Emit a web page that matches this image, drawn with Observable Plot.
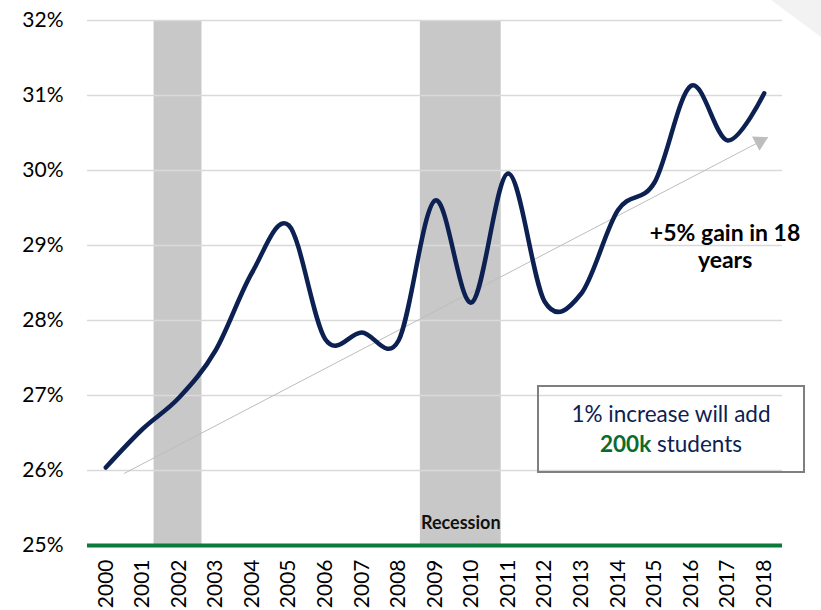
<!DOCTYPE html>
<html>
<head>
<meta charset="utf-8">
<script src="https://cdn.jsdelivr.net/npm/d3@7"></script>
<script src="https://cdn.jsdelivr.net/npm/@observablehq/plot@0.6"></script>
<style>
  html, body { margin: 0; padding: 0; background: #ffffff; }
  #wrap { position: relative; width: 821px; height: 610px; font-family: Lato, "Open Sans", sans-serif; overflow: hidden; }
  #wrap svg { display: block; }
  #corner { position: absolute; right: 0; top: 0; width: 50px; height: 37px; background: #f2f2f2;
            clip-path: polygon(0 0, 100% 0, 100% 100%); }
  #note { position: absolute; left: 537px; top: 385px; width: 268px; height: 88px; box-sizing: border-box;
          border: 2px solid #7f7f7f; display: flex; flex-direction: column; justify-content: center;
          align-items: center; font-size: 22.5px; line-height: 30px; color: #0c2152; background: transparent; }
  #note b { color: #0b6b2e; font-weight: 700; }
</style>
</head>
<body>
<div id="wrap">
  <div id="chart"></div>
  <div id="corner"></div>
  <div id="note"><div>1% increase will add</div><div><b>200k</b> students</div></div>
</div>
<script>
// Years on the x axis
const years = [2000, 2001, 2002, 2003, 2004, 2005, 2006, 2007, 2008, 2009,
               2010, 2011, 2012, 2013, 2014, 2015, 2016, 2017, 2018];
// Share (%) per year
const rates = [26.04, 26.55, 26.97, 27.6, 28.64, 29.27, 27.75, 27.84, 27.73, 29.6,
               28.24, 29.96, 28.25, 28.36, 29.47, 29.84, 31.13, 30.4, 31.03];
// Y axis ticks
const yTicks = [25, 26, 27, 28, 29, 30, 31, 32];
const gridTicks = [26, 27, 28, 29, 30, 31, 32];
// Recession shading (fractional years)
const recessionStart = [2001.32, 2008.6];
const recessionEnd = [2002.63, 2010.81];
const recessionLabel = ["", "Recession"];
// Trend arrow
const trendFrom = [2000.5, 25.96];
const trendTo = [2018.1, 30.44];
// Trend annotation
const trendText = ["+5% gain in 18\nyears"];
const trendTextPos = [2016.93, 29.0];

const data = years.map((year, i) => ({year, rate: rates[i]}));
const recessions = recessionStart.map((s, i) => ({start: s, end: recessionEnd[i], mid: (s + recessionEnd[i]) / 2, label: recessionLabel[i]}));
const trend = [{x1: trendFrom[0], y1: trendFrom[1], x2: trendTo[0], y2: trendTo[1]}];

const chart = Plot.plot({
  width: 821,
  height: 610,
  marginLeft: 87,
  marginRight: 39,
  marginTop: 20,
  marginBottom: 65,
  style: {fontFamily: "Lato, 'Open Sans', sans-serif", fontSize: "21px", color: "#000000", background: "transparent"},
  x: {domain: [1999.5, 2018.5], ticks: years, tickFormat: d => String(d), tickRotate: -90, tickSize: 0, tickPadding: 14, label: null},
  y: {domain: [25, 32], ticks: yTicks, tickFormat: d => d + "%", tickSize: 0, tickPadding: 24, label: null},
  marks: [
    Plot.rect(recessions, {x1: "start", x2: "end", y1: 25, y2: 32, fill: "#c8c8c8"}),
    Plot.ruleY(gridTicks, {stroke: "#d9d9d9", strokeWidth: 1.5}),
    Plot.text(recessions, {x: "mid", y: 25, text: "label", dy: -22, fontWeight: "bold", fontSize: 18, fill: "#111111"}),
    Plot.ruleY([25], {stroke: "#0b7a3a", strokeWidth: 4}),
    Plot.link(trend, {x1: "x1", y1: "y1", x2: "x2", y2: "y2", stroke: "#bdbdbd", strokeWidth: 1}),
    Plot.dot(trend, {x: "x2", y: "y2", symbol: "triangle", r: 6, fill: "#bdbdbd", stroke: null, rotate: 62.4, dx: -8, dy: 4}),
    Plot.line(data, {x: "year", y: "rate", curve: "cardinal", tension: 0, stroke: "#0c2152", strokeWidth: 4.5, strokeLinecap: "round", strokeLinejoin: "round"}),
    Plot.text(trendText, {x: () => trendTextPos[0], y: () => trendTextPos[1], text: d => d, fontWeight: "bold", fontSize: 23, lineHeight: 1.2, fill: "#000000"})
  ]
});
document.getElementById("chart").appendChild(chart);
</script>
</body>
</html>
